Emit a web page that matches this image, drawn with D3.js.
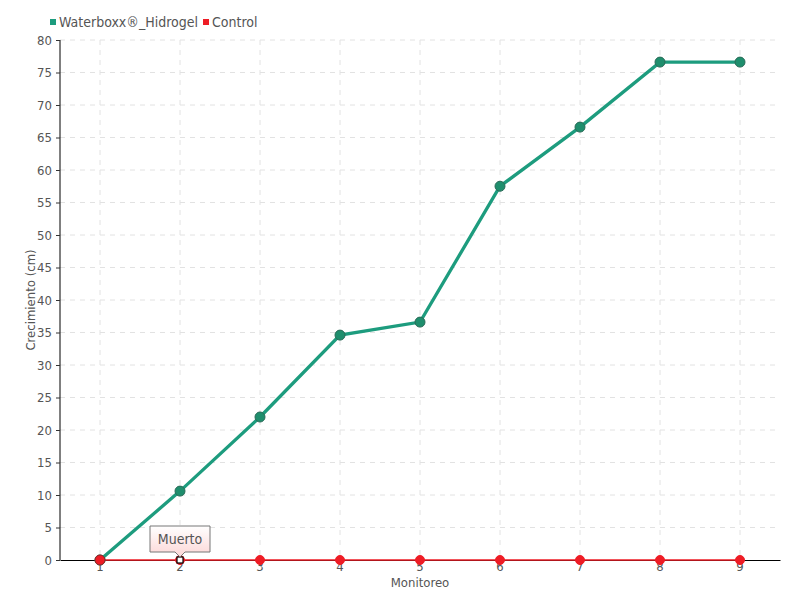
<!DOCTYPE html>
<html>
<head>
<meta charset="utf-8">
<script src="https://cdn.jsdelivr.net/npm/d3@7"></script>
<style>
  body { margin: 0; background: #fff; }
  svg text { font-family: "Liberation Sans Narrow", "DejaVu Sans Condensed", sans-serif; fill: #555; }
</style>
</head>
<body>
<div id="chart"></div>
<script>
var monitoreo = ["1", "2", "3", "4", "5", "6", "7", "8", "9"];
var waterboxx = [0, 10.6, 22, 34.6, 36.6, 57.5, 66.6, 76.6, 76.6];
var control = [0, 0, 0, 0, 0, 0, 0, 0, 0];
var yTicks = d3.range(0, 81, 5);
var seriesNames = ["Waterboxx®_Hidrogel", "Control"];
var deadIndex = 1;           // Monitoreo 2: control plant marked "Muerto"
var deadLabel = "Muerto";

var width = 800, height = 600;
var margin = {top: 40, right: 20, bottom: 40, left: 60};
var green = "#1d9c7e", red = "#ee1c25";

var svg = d3.select("#chart").append("svg")
    .attr("width", width).attr("height", height);

var x = d3.scaleBand().domain(monitoreo)
    .range([margin.left, width - margin.right]);
var y = d3.scaleLinear().domain([0, 80])
    .range([height - margin.bottom, margin.top]);
var cx = function (d, i) { return x(monitoreo[i]) + x.bandwidth() / 2; };

// grid
var grid = svg.append("g").attr("stroke", "#e2e2e2").attr("stroke-dasharray", "5,5");
grid.selectAll(".gy").data(yTicks.slice(1)).enter().append("line")
    .attr("x1", margin.left).attr("x2", width - margin.right)
    .attr("y1", function (d) { return y(d); }).attr("y2", function (d) { return y(d); });
grid.selectAll(".gx").data(monitoreo).enter().append("line")
    .attr("x1", function (d) { return x(d) + x.bandwidth() / 2; })
    .attr("x2", function (d) { return x(d) + x.bandwidth() / 2; })
    .attr("y1", margin.top).attr("y2", height - margin.bottom);

// axes
var yAxis = svg.append("g").attr("transform", "translate(" + margin.left + ",0)")
    .call(d3.axisLeft(y).tickValues(yTicks).tickSize(4).tickPadding(4));
var xAxis = svg.append("g").attr("transform", "translate(0," + (height - margin.bottom) + ")")
    .call(d3.axisBottom(x).tickSize(5).tickPadding(-3).tickSizeOuter(0));
[xAxis, yAxis].forEach(function (a) {
  a.select(".domain").attr("stroke", "#000");
  a.selectAll(".tick line").attr("stroke", "#333");
  a.selectAll(".tick text").attr("font-size", 13).attr("fill", "#555")
    .attr("font-family", "'Liberation Sans Narrow', 'DejaVu Sans Condensed', sans-serif");
});
yAxis.select(".domain").attr("d", "M0," + y(80) + "V" + y(0));

// axis titles
svg.append("text").attr("x", 420).attr("y", 587).attr("text-anchor", "middle")
    .attr("font-size", 13).text("Monitoreo");
svg.append("text").attr("transform", "translate(35,300) rotate(-90)")
    .attr("text-anchor", "middle").attr("font-size", 13).text("Crecimiento (cm)");

// lines
var line = d3.line().x(cx).y(function (d) { return y(d); });
svg.append("path").datum(control).attr("fill", "none")
    .attr("stroke", red).attr("stroke-width", 1.5).attr("d", line);
svg.append("path").datum(waterboxx).attr("fill", "none")
    .attr("stroke", green).attr("stroke-width", 3.3).attr("d", line);

svg.selectAll(".pw").data(waterboxx).enter().append("circle")
    .attr("cx", cx).attr("cy", function (d) { return y(d); }).attr("r", 5)
    .attr("fill", "#1f8e6d").attr("stroke", "#2b6b58").attr("stroke-width", 1);
svg.selectAll(".pc").data(control).enter().append("circle")
    .attr("cx", cx).attr("cy", function (d) { return y(d); })
    .attr("r", function (d, i) { return i === 0 ? 5 : 4.5; })
    .attr("fill", red).attr("stroke", function (d, i) { return i === 0 ? "#8a2a2a" : red; });

// dead marker + tooltip
var dx = cx(control[deadIndex], deadIndex), dy = y(control[deadIndex]);
svg.append("rect").attr("x", dx - 3).attr("y", dy - 3).attr("width", 6).attr("height", 6)
    .attr("fill", "#fff").attr("stroke", "#000").attr("stroke-width", 1.2);
var defs = svg.append("defs");
var grad = defs.append("linearGradient").attr("id", "tip").attr("x1", 0).attr("x2", 0).attr("y1", 0).attr("y2", 1);
grad.append("stop").attr("offset", "0%").attr("stop-color", "#fff");
grad.append("stop").attr("offset", "100%").attr("stop-color", "#fcd6d6");
var tx = dx - 30, ty = dy - 34, tw = 60, th = 26;
svg.append("path")
    .attr("d", "M" + tx + "," + ty + "h" + tw + "v" + th + "h" + (-(tw / 2 - 5)) +
         "l-5,5l-5,-5h" + (-(tw / 2 - 5)) + "z")
    .attr("fill", "url(#tip)").attr("stroke", "#777").attr("stroke-width", 1);
svg.append("text").attr("x", dx).attr("y", ty + 18).attr("text-anchor", "middle")
    .attr("font-size", 14).text(deadLabel);

// legend
var leg = svg.append("g").attr("transform", "translate(50,16)");
var colors = [green, red];
var off = 0;
seriesNames.forEach(function (n, i) {
  var g = leg.append("g").attr("transform", "translate(" + off + ",0)");
  g.append("rect").attr("x", 0).attr("y", 3).attr("width", 6).attr("height", 6).attr("fill", colors[i]);
  var t = g.append("text").attr("x", 9).attr("y", 11).attr("font-size", 14).text(n);
  off += 9 + t.node().getComputedTextLength() + 5;
});
</script>
</body>
</html>
